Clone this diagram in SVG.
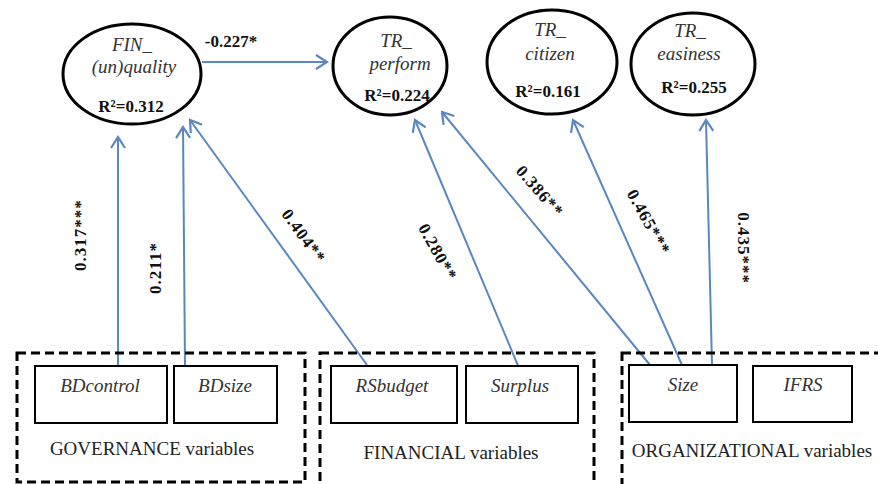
<svg xmlns="http://www.w3.org/2000/svg" width="878" height="484" viewBox="0 0 878 484">
<style>
.ell{fill:#fff;stroke:#000;stroke-width:3}
.box{fill:#fff;stroke:#000;stroke-width:2}
.grp{fill:none;stroke:#000;stroke-width:3;stroke-dasharray:9 5}
text{font-family:'Liberation Serif','Times New Roman','DejaVu Serif',serif}
.nm{font-style:italic;font-size:19px;fill:#333;text-anchor:middle}
.r2{font-weight:bold;font-size:17px;fill:#111;text-anchor:middle}
.gl{font-size:19px;fill:#222;text-anchor:middle}
.el{font-weight:bold;font-size:17px;fill:#111;text-anchor:middle}
.edge{stroke:#5a87c0;stroke-width:2;fill:none;marker-end:url(#arr)}
</style>
<defs>
<marker id="arr" markerUnits="userSpaceOnUse" markerWidth="16" markerHeight="16" viewBox="0 0 16 16" refX="14" refY="8" orient="auto">
<path d="M3,1 L14,8 L3,15" fill="none" stroke="#5a87c0" stroke-width="2.2"/>
</marker>
</defs>
<rect width="878" height="484" fill="#fff"/>

<g id="connectors">
<line class="edge" x1="202" y1="62" x2="327" y2="62"/>
<line class="edge" x1="118" y1="366" x2="118" y2="137"/>
<line class="edge" x1="185" y1="366" x2="183" y2="127"/>
<line class="edge" x1="367" y1="365" x2="190" y2="120"/>
<line class="edge" x1="519" y1="368" x2="415" y2="120"/>
<line class="edge" x1="650" y1="365" x2="442" y2="112"/>
<line class="edge" x1="682" y1="365" x2="573" y2="120"/>
<line class="edge" x1="712" y1="365" x2="706" y2="120"/>
<text class="el" x="231" y="47" font-size="18">-0.227*</text>
<text class="el" transform="translate(80,235) rotate(-90)" dy="6" letter-spacing="1">0.317***</text>
<text class="el" transform="translate(155,268) rotate(-90)" dy="6" letter-spacing="1">0.211*</text>
<text class="el" transform="translate(304,236) rotate(54)" dy="6" letter-spacing="1">0.404**</text>
<text class="el" transform="translate(438,252) rotate(61)" dy="6" letter-spacing="1">0.280**</text>
<text class="el" transform="translate(540,191) rotate(49)" dy="6" letter-spacing="1">0.386**</text>
<text class="el" transform="translate(649,222) rotate(61)" dy="6" letter-spacing="1">0.465***</text>
<text class="el" transform="translate(744,248) rotate(90)" dy="6" letter-spacing="1">0.435***</text>
</g>

<g id="fin_quality">
<ellipse class="ell" cx="132" cy="74" rx="69" ry="50"/>
<text class="nm" x="132" y="51">FIN_</text>
<text class="nm" x="134" y="73">(un)quality</text>
<text class="r2" x="131" y="112">R²=0.312</text>
</g>
<g id="tr_perform">
<ellipse class="ell" cx="390" cy="66" rx="57" ry="49"/>
<text class="nm" x="396" y="47">TR_</text>
<text class="nm" x="400" y="70">perform</text>
<text class="r2" x="397" y="101">R²=0.224</text>
</g>
<g id="tr_citizen">
<ellipse class="ell" cx="552" cy="62" rx="65" ry="52"/>
<text class="nm" x="550" y="36">TR_</text>
<text class="nm" x="550" y="60">citizen</text>
<text class="r2" x="548" y="97">R²=0.161</text>
</g>
<g id="tr_easiness">
<ellipse class="ell" cx="693" cy="64" rx="62" ry="51"/>
<text class="nm" x="690" y="37">TR_</text>
<text class="nm" x="689" y="60">easiness</text>
<text class="r2" x="694" y="93">R²=0.255</text>
</g>

<g id="governance">
<rect class="grp" x="17" y="353" width="288" height="129"/>
<text class="gl" x="152" y="455">GOVERNANCE variables</text>
</g>
<g id="financial">
<rect class="grp" x="320" y="353" width="274" height="140"/>
<text class="gl" x="451" y="459">FINANCIAL variables</text>
</g>
<g id="organizational">
<rect class="grp" x="622" y="353" width="270" height="140"/>
<text class="gl" x="752" y="457">ORGANIZATIONAL variables</text>
</g>

<g id="bdcontrol">
<rect class="box" x="35" y="366" width="132" height="57"/>
<text class="nm" x="100" y="392">BDcontrol</text>
</g>
<g id="bdsize">
<rect class="box" x="174" y="366" width="103" height="57"/>
<text class="nm" x="225" y="392">BDsize</text>
</g>
<g id="rsbudget">
<rect class="box" x="331" y="366" width="126" height="57"/>
<text class="nm" x="392" y="392">RSbudget</text>
</g>
<g id="surplus">
<rect class="box" x="466" y="366" width="112" height="57"/>
<text class="nm" x="520" y="392">Surplus</text>
</g>
<g id="size">
<rect class="box" x="629" y="365" width="108" height="57"/>
<text class="nm" x="683" y="391">Size</text>
</g>
<g id="ifrs">
<rect class="box" x="753" y="366" width="99" height="56"/>
<text class="nm" x="803" y="391">IFRS</text>
</g>
</svg>
